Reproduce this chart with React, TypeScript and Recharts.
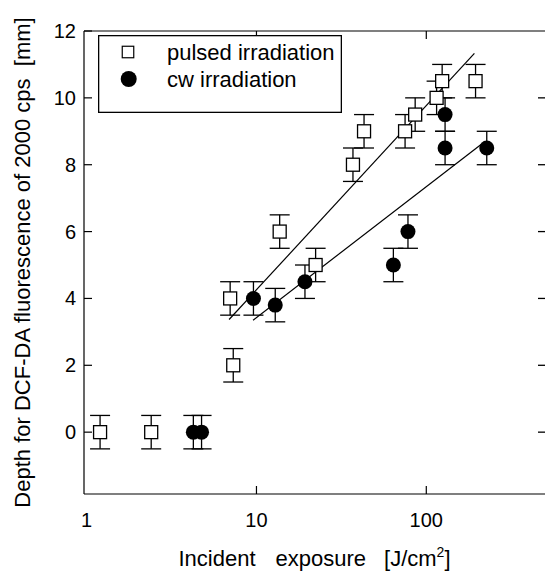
import React from 'react';
import { ComposedChart, Scatter, XAxis, YAxis, ErrorBar, Legend, Label } from 'recharts';

// ---- data ----
const pulsedExposure = [1.2, 2.4, 7.0, 7.3, 13.7, 22.3, 37, 43, 75, 86, 115, 124, 195];
const pulsedDepth = [0, 0, 4, 2, 6, 5, 8, 9, 9, 9.5, 10, 10.5, 10.5];
const pulsedError = [0.5, 0.5, 0.5, 0.5, 0.5, 0.5, 0.5, 0.5, 0.5, 0.5, 0.5, 0.5, 0.5];

const cwExposure = [4.25, 4.75, 9.6, 12.9, 19.3, 64, 78, 129, 129, 227];
const cwDepth = [0, 0, 4, 3.8, 4.5, 5, 6, 9.5, 8.5, 8.5];
const cwError = [0.5, 0.5, 0.5, 0.5, 0.5, 0.5, 0.5, 0.5, 0.5, 0.5];

const pulsedFitExposure = [6.9, 192];
const pulsedFitDepth = [3.37, 11.33];
const cwFitExposure = [9.55, 211];
const cwFitDepth = [3.35, 8.61];

const xTicks = [1, 10, 100];
const xInnerTicks = [10, 100];
const yTicks = [0, 2, 4, 6, 8, 10, 12];
const yRightTicks = [0, 2, 4, 6, 8, 10];
const xDomain = [0.965, 500];
const yDomain = [-1.85, 12];

const legendLabels = ['pulsed irradiation', 'cw irradiation'];
const xTitle = ['Incident', 'exposure', '[J/cm', '2', ']'];
const yTitle = 'Depth for DCF-DA fluorescence of 2000 cps  [mm]';

const pulsedData = pulsedExposure.map((x, i) => ({ x, y: pulsedDepth[i], err: pulsedError[i] }));
const cwData = cwExposure.map((x, i) => ({ x, y: cwDepth[i], err: cwError[i] }));
const pulsedFit = pulsedFitExposure.map((x, i) => ({ x, y: pulsedFitDepth[i] }));
const cwFit = cwFitExposure.map((x, i) => ({ x, y: cwFitDepth[i] }));

const FONT = "'Liberation Sans', Arial, Helvetica, sans-serif";
const INK = '#000';
const CHART_W = 546;
const CHART_H = 571;
const MARGIN = { top: 30, right: 1, bottom: 0, left: 0 };
const PLOT_RIGHT = CHART_W - MARGIN.right;

const SquareShape = (p: any) => (
  <rect x={p.cx - 6.5} y={p.cy - 6.5} width={13} height={13} fill="#fff" stroke={INK} strokeWidth={1.3} />
);
const CircleShape = (p: any) => <circle cx={p.cx} cy={p.cy} r={7.5} fill={INK} />;
const NoShape = () => <g />;

const LeftTick = (p: any) => (
  <g>
    <text x={p.x} y={p.y} textAnchor="end" dominantBaseline="central" fontSize={20} fontFamily={FONT} fill={INK}>
      {p.payload.value}
    </text>
    <line x1={p.x + 8} x2={p.x + 16} y1={p.y} y2={p.y} stroke={INK} strokeWidth={1.2} />
    {yRightTicks.indexOf(Number(p.payload.value)) >= 0 ? (
      <line x1={PLOT_RIGHT - 7} x2={PLOT_RIGHT} y1={p.y} y2={p.y} stroke={INK} strokeWidth={1.3} />
    ) : null}
  </g>
);

const BottomTick = (p: any) => (
  <g>
    <text x={p.x} y={p.y + 33} textAnchor="middle" fontSize={20} fontFamily={FONT} fill={INK}>
      {p.payload.value}
    </text>
    {xInnerTicks.indexOf(Number(p.payload.value)) >= 0 ? (
      <line x1={p.x} x2={p.x} y1={p.y} y2={p.y - 8} stroke={INK} strokeWidth={1.2} />
    ) : null}
  </g>
);

const TopTick = (p: any) => <line x1={p.x} x2={p.x} y1={p.y} y2={p.y + 8} stroke={INK} strokeWidth={1.2} />;

const XTitle = (p: any) => {
  const vb = p.viewBox;
  return (
    <text x={vb.x + vb.width / 2} y={vb.y + 72} textAnchor="middle" fontSize={22} fontFamily={FONT} fill={INK}>
      <tspan>{xTitle[0]}</tspan>
      <tspan dx={20}>{xTitle[1]}</tspan>
      <tspan dx={18}>{xTitle[2]}</tspan>
      <tspan dy={-9} fontSize={14}>{xTitle[3]}</tspan>
      <tspan dy={9}>{xTitle[4]}</tspan>
    </text>
  );
};

const YTitle = (p: any) => {
  const vb = p.viewBox;
  const cx = 22;
  const cy = vb.y + vb.height / 2;
  return (
    <text
      x={cx}
      y={cy}
      transform={`rotate(-90 ${cx} ${cy})`}
      textAnchor="middle"
      dominantBaseline="central"
      fontSize={22}
      fontFamily={FONT}
      fill={INK}
      style={{ whiteSpace: 'pre' }}
    >
      {yTitle}
    </text>
  );
};

const LegendBox = () => (
  <svg width={244} height={78} style={{ display: 'block' }}>
    <rect x={0.65} y={0.65} width={242.7} height={76.7} fill="#fff" stroke={INK} strokeWidth={1.3} />
    <rect x={24.25} y={11.25} width={11.5} height={11.5} fill="#fff" stroke={INK} strokeWidth={1.2} />
    <circle cx={30.7} cy={44} r={8} fill={INK} />
    <text x={69} y={25} fontSize={22} fontFamily={FONT} fill={INK}>{legendLabels[0]}</text>
    <text x={69} y={51.7} fontSize={22} fontFamily={FONT} fill={INK}>{legendLabels[1]}</text>
  </svg>
);

export default function App() {
  return (
    <div style={{ position: 'absolute', left: 0, top: 0, width: CHART_W, height: CHART_H, background: '#fff' }}>
      <ComposedChart width={CHART_W} height={CHART_H} margin={MARGIN}>
        <XAxis
          dataKey="x"
          type="number"
          scale="log"
          domain={xDomain}
          allowDataOverflow
          ticks={xTicks}
          interval={0}
          height={77}
          axisLine={{ stroke: INK, strokeWidth: 1.2 }}
          tickLine={false}
          tickSize={0}
          tickMargin={0}
          tick={BottomTick}
        >
          <Label content={XTitle} />
        </XAxis>
        <XAxis
          xAxisId="top"
          orientation="top"
          dataKey="x"
          type="number"
          scale="log"
          domain={xDomain}
          allowDataOverflow
          ticks={xInnerTicks}
          interval={0}
          height={1}
          axisLine={{ stroke: INK, strokeWidth: 1.2 }}
          tickLine={false}
          tickSize={0}
          tickMargin={0}
          tick={TopTick}
        />
        <YAxis
          dataKey="y"
          type="number"
          domain={yDomain}
          allowDataOverflow
          ticks={yTicks}
          interval={0}
          width={84}
          axisLine={{ stroke: INK, strokeWidth: 1.2 }}
          tickLine={false}
          tickSize={0}
          tickMargin={8}
          tick={LeftTick}
        >
          <Label content={YTitle} />
        </YAxis>
        <Legend
          verticalAlign="middle"
          layout="horizontal"
          content={LegendBox}
          wrapperStyle={{ position: 'absolute', left: 98, top: 35, width: 244, height: 78 }}
        />
        <Scatter
          name="pulsed fit"
          data={pulsedFit}
          line={{ stroke: INK, strokeWidth: 1.2 }}
          shape={NoShape}
          isAnimationActive={false}
          legendType="none"
        />
        <Scatter
          name="cw fit"
          data={cwFit}
          line={{ stroke: INK, strokeWidth: 1.2 }}
          shape={NoShape}
          isAnimationActive={false}
          legendType="none"
        />
        <Scatter name={legendLabels[0]} data={pulsedData} shape={SquareShape} isAnimationActive={false}>
          <ErrorBar dataKey="err" direction="y" width={10} stroke={INK} strokeWidth={1.3} />
        </Scatter>
        <Scatter name={legendLabels[1]} data={cwData} shape={CircleShape} isAnimationActive={false}>
          <ErrorBar dataKey="err" direction="y" width={10} stroke={INK} strokeWidth={1.3} />
        </Scatter>
      </ComposedChart>
    </div>
  );
}
